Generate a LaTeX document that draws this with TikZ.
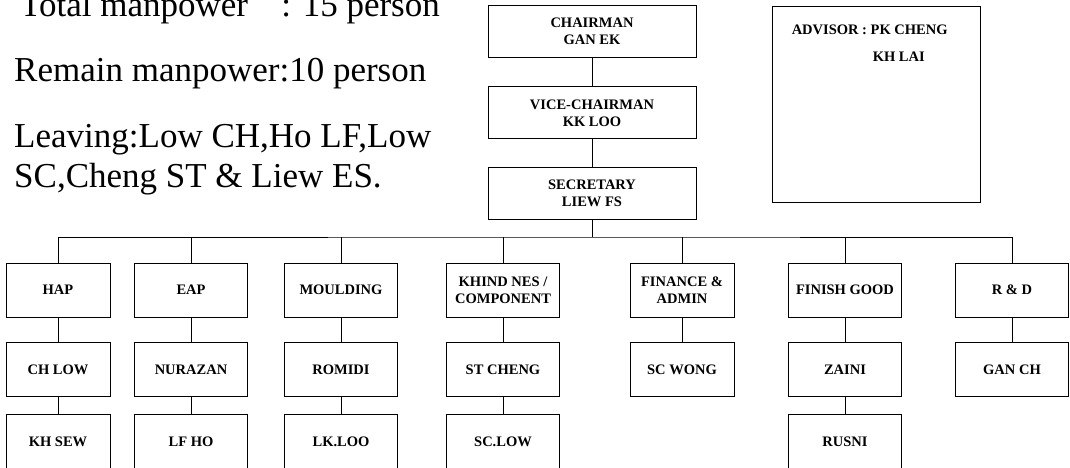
\documentclass[tikz,border=0pt]{standalone}
\usepackage{fontspec}
\setmainfont{Liberation Serif}
\usetikzlibrary{positioning}

\begin{document}
\begin{tikzpicture}[
    x=1pt, y=-1pt,
    font=\bfseries\fontsize{14.5}{17}\selectfont,
    node distance=25pt,
    head/.style={draw, line width=0.9pt, minimum width=208pt,
                 minimum height=52pt, align=center, inner sep=2pt},
    unit/.style={draw, line width=0.9pt, minimum width=113pt,
                 minimum height=54pt, align=center, inner sep=2pt},
    note/.style={font=\fontsize{35}{40}\selectfont, anchor=base west,
                 inner sep=0pt, align=left},
    link/.style={line width=0.9pt}
  ]
  \useasboundingbox (0,0) rectangle (1070,468);

  \node[note] (total) at (20,17) {Total manpower\hspace{0.95em}: 15 person};
  \node[note] (remain) at (14,82) {Remain manpower:10 person};
  \node[note] (leaving) at (14,187)
    {Leaving:Low CH,Ho LF,Low\\SC,Cheng ST \& Liew ES.};

  \node[head] (chair) at (592,31) {CHAIRMAN\\GAN EK};
  \node[head, below=29pt of chair] (vice) {VICE-CHAIRMAN\\KK LOO};
  \node[head, below=28pt of vice] (sec) {SECRETARY\\LIEW FS};

  \node[draw, line width=0.9pt, minimum width=208pt, minimum height=196pt]
    (advisor) at (876,104) {};
  \node[anchor=north west, align=left, inner sep=0pt,
        font=\bfseries\fontsize{14.5}{27}\selectfont]
    (advtext) at ([xshift=20pt, yshift=-19pt]advisor.north west)
    {ADVISOR : PK CHENG\\\hspace*{81pt}KH LAI};

  \node[unit, minimum width=104pt] (hap) at (58,290) {HAP};
  \node[unit] (eap) at (191,290) {EAP};
  \node[unit] (mould) at (341,290) {MOULDING};
  \node[unit] (khind) at (503,290) {KHIND NES /\\COMPONENT};
  \node[unit, minimum width=104pt] (fin) at (682,290) {FINANCE \&\\ADMIN};
  \node[unit] (finish) at (845,290) {FINISH GOOD};
  \node[unit] (rd) at (1012,290) {R \& D};

  \node[unit, minimum width=104pt, below=of hap] (chlow) {CH LOW};
  \node[unit, below=of eap] (nurazan) {NURAZAN};
  \node[unit, below=of mould] (romidi) {ROMIDI};
  \node[unit, below=of khind] (stcheng) {ST CHENG};
  \node[unit, minimum width=104pt, below=of fin] (scwong) {SC WONG};
  \node[unit, below=of finish] (zaini) {ZAINI};
  \node[unit, below=of rd] (ganch) {GAN CH};

  \node[unit, minimum width=104pt, below=17pt of chlow] (khsew) {KH SEW};
  \node[unit, below=17pt of nurazan] (lfho) {LF HO};
  \node[unit, below=17pt of romidi] (lkloo) {LK.LOO};
  \node[unit, below=17pt of stcheng] (sclow) {SC.LOW};
  \node[unit, below=17pt of zaini] (rusni) {RUSNI};

  \coordinate (bus) at (592,237);

  \draw[link] (chair) -- (vice);
  \draw[link] (vice) -- (sec);
  \draw[link] (sec) -- (bus);
  \draw[link] (hap.north) |- (bus) -| (rd.north);
  \foreach \dept in {eap,mould,khind,fin,finish}
    \draw[link] (\dept.north) -- (\dept.north |- bus);
  \foreach \upper/\lower in {hap/chlow,chlow/khsew,eap/nurazan,nurazan/lfho,
      mould/romidi,romidi/lkloo,khind/stcheng,stcheng/sclow,fin/scwong,
      finish/zaini,zaini/rusni,rd/ganch}
    \draw[link] (\upper) -- (\lower);

\end{tikzpicture}
\end{document}
